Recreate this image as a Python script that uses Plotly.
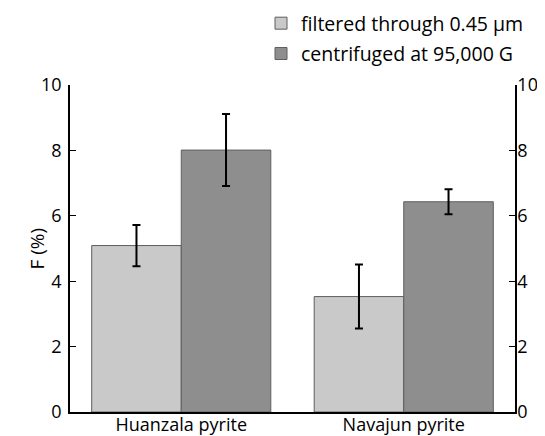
import plotly.graph_objects as go

categories = ["Huanzala pyrite", "Navajun pyrite"]
filtered_vals = [5.09, 3.53]
filtered_err = [0.63, 0.98]
centrifuged_vals = [8.01, 6.43]
centrifuged_err = [1.10, 0.38]
series_names = ["filtered through 0.45 μm", "centrifuged at 95,000 G"]
y_ticks = [0, 2, 4, 6, 8, 10]
y_title = "F (%)"

FONT = "Open Sans"
# page body has an 8px default margin; size the figure to fit the 545x436 window
W, H, OFF = 537, 428, 8

fig = go.Figure()
fig.add_trace(go.Bar(
    x=categories, y=filtered_vals, name=series_names[0], legendgroup="a",
    marker=dict(color="#c9c9c9", line=dict(color="#5e5e5e", width=1)),
    error_y=dict(type="data", array=filtered_err, color="black", thickness=2, width=4),
))
fig.add_trace(go.Bar(
    x=categories, y=centrifuged_vals, name=series_names[1], legendgroup="b",
    marker=dict(color="#8e8e8e", line=dict(color="#5e5e5e", width=1)),
    error_y=dict(type="data", array=centrifuged_err, color="black", thickness=2, width=4),
))
# invisible trace for the right axis
fig.add_trace(go.Scatter(x=categories, y=[None, None], yaxis="y2", showlegend=False,
                         hoverinfo="skip", mode="markers"))

axis_common = dict(range=[0, 10], tickvals=y_ticks, ticks="inside", ticklen=6,
                   tickcolor="black", showline=True, linecolor="black", linewidth=1.5,
                   showgrid=False, zeroline=False, tickfont=dict(size=18, color="#000000"),
                   automargin=False)

fig.update_layout(
    template="none",
    width=W, height=H,
    margin=dict(l=70 - OFF, r=30, t=85 - OFF, b=24, autoexpand=False),
    paper_bgcolor="white", plot_bgcolor="white",
    font=dict(family=FONT, color="#000000"),
    barmode="group", bargap=0.195, bargroupgap=0,
    xaxis=dict(range=[-0.5, 1.5], showline=True, linecolor="black", linewidth=1.5,
               ticks="", showgrid=False, tickfont=dict(size=18, color="#000000"),
               automargin=False, ticklabelstandoff=-4),
    yaxis=dict(side="left", ticklabelstandoff=3, **axis_common),
    yaxis2=dict(overlaying="y", side="right", anchor="x", ticklabelstandoff=-3,
                **axis_common),
    legend=dict(x=(261 - 70) / 445, y=1 + (85 - 4) / 327,
                yanchor="top", xanchor="left", font=dict(size=19.5, color="#000000"),
                tracegroupgap=2, bgcolor="rgba(0,0,0,0)"),
    showlegend=True,
    annotations=[dict(text=y_title, xref="paper", yref="paper", x=0, y=0.5,
                      xanchor="center", yanchor="middle",
                      xshift=-34, textangle=-90, showarrow=False,
                      font=dict(size=19, color="#000000"))],
)
fig.write_html("out.html")
